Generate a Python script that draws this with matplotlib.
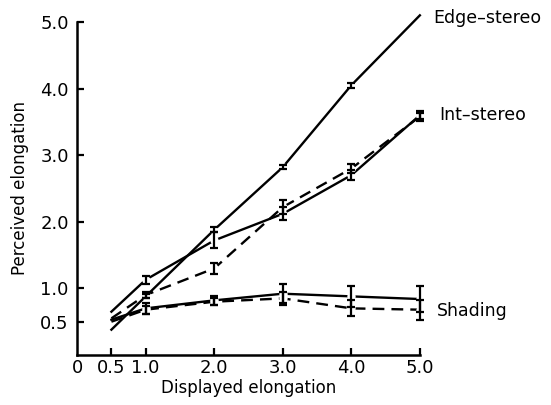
import matplotlib.pyplot as plt

# displayed elongation
x = [0.5, 1.0, 2.0, 3.0, 4.0, 5.0]

# perceived elongation, per condition (solid = one group, dashed = other)
edge = [0.38, 0.88, 1.88, 2.82, 4.05, 5.1]
edge_err = [0, 0.03, 0.04, 0.03, 0.04, 0]
int_solid = [0.65, 1.13, 1.72, 2.12, 2.7, 3.6]
int_solid_err = [0, 0.06, 0.12, 0.1, 0.08, 0.06]
int_dashed = [0.55, 0.9, 1.3, 2.22, 2.8, 3.58]
int_dashed_err = [0, 0.05, 0.08, 0.1, 0.07, 0.06]
shade_solid = [0.53, 0.7, 0.82, 0.92, 0.88, 0.84]
shade_solid_err = [0, 0.08, 0.07, 0.14, 0.16, 0.2]
shade_dashed = [0.5, 0.68, 0.8, 0.85, 0.7, 0.68]
shade_dashed_err = [0, 0.06, 0.05, 0.1, 0.12, 0.15]

labels = ["Edge\u2013stereo", "Int\u2013stereo", "Shading"]
label_pos = [(5.2, 5.06), (5.28, 3.6), (5.25, 0.66)]

xticks = [0, 0.5, 1.0, 2.0, 3.0, 4.0, 5.0]
xticklabels = ["0", "0.5", "1.0", "2.0", "3.0", "4.0", "5.0"]
yticks = [0.5, 1.0, 2.0, 3.0, 4.0, 5.0]
yticklabels = ["0.5", "1.0", "2.0", "3.0", "4.0", "5.0"]

plt.rcParams['font.family'] = ['DejaVu Sans']
fig = plt.figure(figsize=(5.51, 4.05), dpi=100)
ax = fig.add_axes([0.14, 0.1235, 0.622, 0.8222])

series = [
    (edge, edge_err, '-'),
    (int_solid, int_solid_err, '-'),
    (int_dashed, int_dashed_err, (0, (5, 3))),
    (shade_solid, shade_solid_err, '-'),
    (shade_dashed, shade_dashed_err, (0, (5, 3))),
]

for y, err, ls in series:
    ax.plot(x, y, color='black', lw=1.7, ls=ls, clip_on=False, zorder=2)
    # only points with an error bar get one (and the small gap round it)
    px = [xi for xi, e in zip(x, err) if e > 0]
    py = [yi for yi, e in zip(y, err) if e > 0]
    pe = [e for e in err if e > 0]
    ax.plot(px, py, ls='none', marker='o', ms=6, mfc='white', mec='none',
            clip_on=False, zorder=3)
    ax.errorbar(px, py, yerr=pe, fmt='none', ecolor='black',
                elinewidth=1.6, capsize=3, capthick=1.6, clip_on=False, zorder=4)

for text, (tx, ty) in zip(labels, label_pos):
    ax.text(tx, ty, text, fontsize=12.5, va='center', ha='left', clip_on=False)

ax.set_xlim(0, 5.0)
ax.set_ylim(0, 5.0)
ax.set_xticks(xticks)
ax.set_xticklabels(xticklabels)
ax.set_yticks(yticks)
ax.set_yticklabels(yticklabels)
ax.tick_params(direction='in', length=5, width=1.6, labelsize=13)
ax.tick_params(axis='x', pad=3)
ax.tick_params(axis='y', pad=6)
ax.xaxis.get_major_ticks()[0].tick1line.set_visible(False)

ax.spines['right'].set_color('none')
ax.spines['top'].set_color('none')
ax.spines['left'].set_linewidth(1.8)
ax.spines['bottom'].set_linewidth(1.8)

ax.set_xlabel("Displayed elongation", fontsize=12, labelpad=1)
ax.set_ylabel("Perceived elongation", fontsize=12, labelpad=8)

fig.savefig("out.png", dpi=100)
